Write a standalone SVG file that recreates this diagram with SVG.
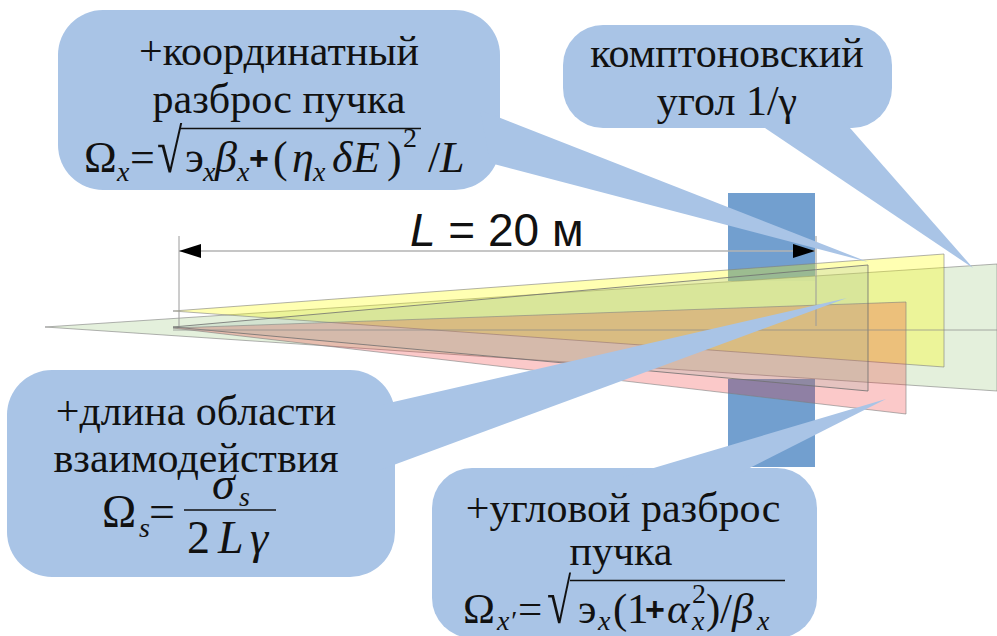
<svg xmlns="http://www.w3.org/2000/svg" width="997" height="636" viewBox="0 0 997 636">
<defs>
<style>
.cone{stroke:#7f7f7f;stroke-opacity:0.6;stroke-width:1}
.bar{fill:#729fcf}
.co{fill:#a9c4e6;stroke:none}
.t{font-family:"Liberation Serif","Times New Roman",serif;font-size:42px;fill:#111;text-anchor:middle}
.m{font-family:"Liberation Serif","Times New Roman",serif;fill:#111}
.i{font-style:italic}
.pl{font-family:"Liberation Sans",Arial,sans-serif;font-weight:bold}
.ov{stroke:#111;stroke-width:1.6}
.dim{stroke:#b3b3b3;stroke-width:1.5;fill:none}
.ext{stroke:#9a9a9a;stroke-width:1;fill:none}
</style>
<marker id="arr" markerUnits="userSpaceOnUse" markerWidth="24" markerHeight="16" refX="22" refY="7" orient="auto-start-reverse">
<path d="M0,0 L22,7 L0,14 z" fill="#000"/>
</marker>
</defs>
<rect width="997" height="636" fill="#fff"/>

<g id="bar">
<rect class="bar" x="728" y="193" width="87" height="88"/>
<rect class="bar" x="728" y="379" width="87" height="88"/>
</g>

<g id="cones">
<polygon id="cone-green" class="cone" points="45,327 997,264 997,391" fill="#e2efd9" fill-opacity="0.92"/>
<polygon id="cone-yellow" class="cone" points="173,311 944,254 944,367" fill="#ffff00" fill-opacity="0.3"/>
<polygon id="cone-pink" class="cone" points="173,328 906,302 906,414" fill="#ee1c1c" fill-opacity="0.24"/>
<polygon id="cone-box" points="173,327 868,265 868,391" fill="#8fb0a0" fill-opacity="0.2" stroke="#6f6f6f" stroke-opacity="0.8" stroke-width="1"/>
<line x1="173" y1="330" x2="997" y2="330" stroke="#8a8a8a" stroke-opacity="0.7" stroke-width="1"/>
</g>

<g id="connectors">
<line class="ext" x1="179" y1="236" x2="179" y2="326"/>
<line class="ext" x1="816" y1="236" x2="816" y2="326"/>
<line class="dim" x1="179" y1="251" x2="815" y2="251" marker-start="url(#arr)" marker-end="url(#arr)"/>
<text x="410" y="246" font-family="Liberation Sans, Arial, sans-serif" font-size="46" fill="#111"><tspan font-style="italic">L</tspan> = 20 м</text>
</g>

<g id="callout-coord">
<rect class="co" x="58" y="10" width="442" height="180" rx="45"/>
<polygon class="co" points="480,110 868,262 490,163"/>
<text class="t" x="279" y="65">+координатный</text>
<text class="t" x="279" y="113">разброс пучка</text>
<g class="m" font-size="44">
<text x="84" y="172">Ω</text>
<text x="117" y="181" font-size="28" class="i">x</text>
<text x="130" y="172">=</text>
<text transform="translate(157,172) scale(1,1.35)" font-size="46">√</text>
<line class="ov" x1="180" y1="128.5" x2="421" y2="128.5"/>
<text x="185" y="172">э</text>
<text x="203" y="181" font-size="28" class="i">x</text>
<text x="215" y="172" class="i">β</text>
<text x="237" y="181" font-size="28" class="i">x</text>
<text x="249" y="170" class="pl" font-size="34">+</text>
<text x="273" y="172">(</text>
<text x="292" y="172" class="i">η</text>
<text x="313" y="181" font-size="28" class="i">x</text>
<text x="332" y="172" class="i">δ</text>
<text x="353" y="172" class="i">E</text>
<text x="387" y="172">)</text>
<text x="403" y="147" font-size="28">2</text>
<text x="428" y="172">/</text>
<text x="440" y="172" class="i">L</text>
</g>
</g>

<g id="callout-compton">
<rect class="co" x="563" y="25" width="329" height="103" rx="40"/>
<polygon class="co" points="753,120 973,268 843,120"/>
<text class="t" x="727" y="67">комптоновский</text>
<text class="t" x="727" y="115">угол 1/γ</text>
</g>

<g id="callout-length">
<rect class="co" x="7" y="370" width="388" height="207" rx="45"/>
<polygon class="co" points="380,405 847,298 380,470"/>
<text class="t" x="196" y="425">+длина области</text>
<text class="t" x="196" y="472">взаимодействия</text>
<g class="m" font-size="46">
<text x="102" y="527">Ω</text>
<text x="139" y="537" font-size="28" class="i">s</text>
<text x="149" y="527">=</text>
<line class="ov" x1="184" y1="510" x2="276" y2="510"/>
<text x="212" y="499" class="i">σ</text>
<text x="239" y="506" font-size="28" class="i">s</text>
<text x="187" y="553">2</text>
<text x="218" y="553" class="i">L</text>
<text x="250" y="553" class="i">γ</text>
</g>
</g>

<g id="callout-angular">
<rect class="co" x="432" y="468" width="385" height="170" rx="40"/>
<polygon class="co" points="620,478 886,399 730,478"/>
<text class="t" x="623" y="522">+угловой разброс</text>
<text class="t" x="621" y="565">пучка</text>
<g class="m" font-size="43">
<text x="463" y="623">Ω</text>
<text x="497" y="630" font-size="28" class="i">x′</text>
<text x="518" y="623">=</text>
<text transform="translate(547,623) scale(1,1.45)" font-size="44">√</text>
<line class="ov" x1="570" y1="580.5" x2="785" y2="580.5"/>
<text x="578" y="623">э</text>
<text x="598" y="630" font-size="28" class="i">x</text>
<text x="613" y="623">(</text>
<text x="627" y="623">1</text>
<text x="645" y="621" class="pl" font-size="34">+</text>
<text x="667" y="623" class="i">α</text>
<text x="692" y="603" font-size="28">2</text>
<text x="692" y="630" font-size="28" class="i">x</text>
<text x="706" y="623">)</text>
<text x="720" y="623">/</text>
<text x="732" y="623" class="i">β</text>
<text x="757" y="630" font-size="28" class="i">x</text>
</g>
</g>
</svg>
